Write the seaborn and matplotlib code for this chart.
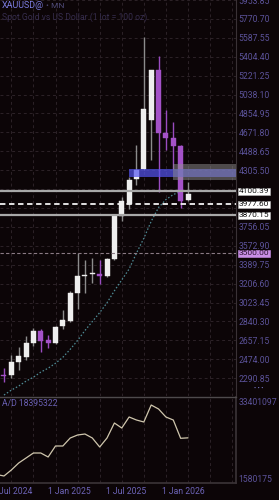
import matplotlib
matplotlib.use("Agg")
import matplotlib.pyplot as plt
import matplotlib.transforms as mtransforms
import numpy as np
import pandas as pd
import seaborn as sns

# ---------------- data ----------------
candle_idx = list(range(26))
opens  = [2324, 2320, 2445, 2493, 2627, 2743, 2656, 2627, 2800, 2848, 3118, 3276, 3295, 3300,
          3281, 3444, 3858, 3973, 4223, 4319, 4790, 5280, 4665, 4617, 4540, 4012]
closes = [2315, 2445, 2502, 2627, 2743, 2646, 2627, 2791, 2858, 3118, 3281, 3286, 3305, 3281,
          3444, 3858, 4002, 4213, 4310, 4896, 5271, 4665, 4617, 4540, 4002, 4079]
highs  = [2387, 2512, 2589, 2695, 2781, 2771, 2704, 2800, 2954, 3137, 3502, 3435, 3454, 3435,
          3454, 3867, 4050, 4242, 4550, 5598, 5280, 5415, 4886, 4771, 4550, 4194]
lows   = [2252, 2291, 2368, 2464, 2598, 2541, 2579, 2618, 2771, 2839, 2964, 3118, 3214, 3204,
          3271, 3435, 3810, 3925, 4165, 4310, 4406, 4098, 4502, 4319, 3935, 4002]

ma_idx = list(range(25))
ma_vals = [2127, 2175, 2214, 2262, 2300, 2349, 2387, 2435, 2493, 2570, 2656, 2752, 2839,
           2925, 3021, 3137, 3242, 3348, 3502, 3646, 3810, 3944, 4021, 4069, 4098]

ad_idx = list(range(-1, 26))
ad_vals = [3045611, 2420000, 4930000, 7860000, 9950000, 12050000, 12050000, 10370000,
           14980000, 14980000, 18330000, 19580000, 20000000, 18330000, 14560000, 18330000,
           24610000, 22510000, 27120000, 25860000, 25030000, 32140000, 30470000, 27120000,
           25860000, 18200000, 18395322]

price_ticks = [2290.85 + 183.15 * k for k in range(21)]
hidden_ticks = [10, 9]   # covered by level boxes in the reference
level_lines = [4100.39, 3977.60, 3870.15]
level_500 = 3500.00
zone_blue = (16.98, 4242.0, 4319.0)
zone_grey = (22.96, 4213.0, 4367.0)

x_label_pos = [1.63, 8.83, 16.58, 24.32]
x_labels = ["Jul 2024", "1 Jan 2025", "1 Jul 2025", "1 Jan 2026"]
grid_x = list(range(1, 32, 3))
ad_ticks = [33401097, 1580175]

# ---------------- style ----------------
bg = "#0c0507"
lab = "#5b5299"
grid_c = "#2c2228"
sns.set_theme(style="dark", rc={"axes.facecolor": bg, "figure.facecolor": bg})
plt.rcParams["font.family"] = ["Roboto", "DejaVu Sans"]

W, H = 279, 500
fig = plt.figure(figsize=(W / 100, H / 100), dpi=100)
fig.patch.set_facecolor(bg)

ax = fig.add_axes([0, 104 / H, 236 / W, 396 / H])
ax2 = fig.add_axes([0, 17 / H, 236 / W, 86 / H])
for a in (ax, ax2):
    a.set_facecolor(bg)
    a.set_xlim(-0.54, 31.52)

ax.set_ylim(2117.8, 5924.5)

df = pd.DataFrame({"i": candle_idx, "o": opens, "c": closes, "h": highs, "l": lows})
df["bull"] = df["c"] >= df["o"]
white = "#eeeeee"
purple = "#a452c8"

# wicks
for bull, col in ((True, "#8c8c8c"), (False, "#9a4cc0")):
    d = df[df["bull"] == bull]
    ax.vlines(d["i"], d["l"], d["h"], color=col, lw=1.0, zorder=3)
# bodies
for bull, col in ((True, white), (False, purple)):
    d = df[df["bull"] == bull]
    bottom = np.minimum(d["o"], d["c"])
    height = np.maximum(np.abs(d["c"] - d["o"]), 8)
    ax.bar(d["i"], height, bottom=bottom, width=0.68, color=col, edgecolor=col,
           linewidth=0.3, zorder=4)

# moving average (dotted)
sns.lineplot(x=ma_idx, y=ma_vals, ax=ax, color="#4f8c96", lw=0.9,
             linestyle=(0, (1.2, 1.6)), zorder=2)

# zones
ax.axhspan(zone_blue[1], zone_blue[2], xmin=(zone_blue[0] + 0.54) / 32.06, xmax=1,
           color=(0.33, 0.33, 0.94), alpha=0.7, lw=0, zorder=5)
ax.axhspan(zone_grey[1], zone_grey[2], xmin=(zone_grey[0] + 0.54) / 32.06, xmax=1,
           color="#909090", alpha=0.5, lw=0, zorder=6)

# level lines
ax.axhline(level_lines[0], color="#a8a8a8", lw=1.6, zorder=7)
ax.axhline(level_lines[1], color="#f2f2f2", lw=1.3, linestyle=(0, (3, 2)), zorder=7)
ax.axhline(level_lines[2], color="#a8a8a8", lw=1.6, zorder=7)
ax.axhline(level_500, color="#8a7a84", lw=0.8, linestyle=(0, (3, 2)), zorder=7)

# grid
ax.set_xticks(grid_x)
ax.set_xticklabels([])
ax.set_yticks(price_ticks)
ax.grid(True, color=grid_c, lw=0.7, linestyle=(0, (3, 3)))
ax.yaxis.tick_right()
ax.tick_params(axis="y", length=0, pad=2, labelsize=6.2, labelcolor=lab)
ax.tick_params(axis="x", length=0)
ax.set_yticklabels(["" if k in hidden_ticks else f"{v:.2f}" for k, v in enumerate(price_ticks)])
for s in ("top", "left", "bottom"):
    ax.spines[s].set_visible(False)
ax.spines["right"].set_color("#3a3236")
ax.spines["right"].set_linewidth(0.8)

# level labels
trans = mtransforms.blended_transform_factory(ax.transAxes, ax.transData)
for v in level_lines:
    ax.text(1.012, v, f"{v:.2f}", transform=trans, ha="left", va="center",
            fontsize=6.0, color="#111111", zorder=10, clip_on=False,
            bbox=dict(boxstyle="square,pad=0.06", fc="white", ec="#bbbbbb", lw=0.4))
ax.text(1.012, level_500, f"{level_500:.2f}", transform=trans, ha="left", va="center",
        fontsize=6.0, color="#2a1030", zorder=10, clip_on=False,
        bbox=dict(boxstyle="square,pad=0.06", fc="#c98fe6", ec="#c98fe6", lw=0.4))

# ---------------- A/D panel ----------------
ax2.set_ylim(-513305, 35494577)
sns.lineplot(x=ad_idx, y=ad_vals, ax=ax2, color="#cfc6ad", lw=0.9)
ax2.set_xticks(grid_x, minor=True)
ax2.set_xticks(x_label_pos)
ax2.set_xticklabels(x_labels)
ax2.grid(False)
ax2.grid(True, which="minor", axis="x", color=grid_c, lw=0.7, linestyle=(0, (3, 3)))
ax2.tick_params(axis="x", which="both", length=0, pad=3, labelsize=6.2, labelcolor="#6d64b8")
ax2.set_yticks(ad_ticks)
ax2.set_yticklabels([str(v) for v in ad_ticks])
ax2.yaxis.tick_right()
ax2.tick_params(axis="y", length=0, pad=2, labelsize=6.2, labelcolor=lab)
ax2.spines["left"].set_visible(False)
ax2.spines["top"].set_color("#4e4a4c")
ax2.spines["top"].set_linewidth(1.0)
ax2.spines["right"].set_color("#3a3236")
ax2.spines["bottom"].set_color("#3a3236")
ax2.set_xlabel("")
ax2.set_ylabel("")
ax.set_xlabel("")
ax.set_ylabel("")

ax2.text(0.008, 0.92, f"A/D {ad_vals[-1]}", transform=ax2.transAxes, ha="left", va="center",
         fontsize=6.2, color="#6a60b4")

# header
fig.text(2 / W, 1 - 6 / H, "XAUUSD@", ha="left", va="center", fontsize=6.4, color="#7c7ce0")
fig.text(46 / W, 1 - 6 / H, "• MN", ha="left", va="center", fontsize=6.0, color="#4e4a78")
fig.text(2 / W, 1 - 17 / H, "Spot Gold vs US Dollar (1 lot = 100 oz)", ha="left", va="center",
         fontsize=6.2, color="#352c4c")
fig.text(259 / W, 1 - 388 / H, "• • •", ha="center", va="center", fontsize=4.5, color="#8080d0")

fig.savefig("out.png", dpi=100, facecolor=bg)
